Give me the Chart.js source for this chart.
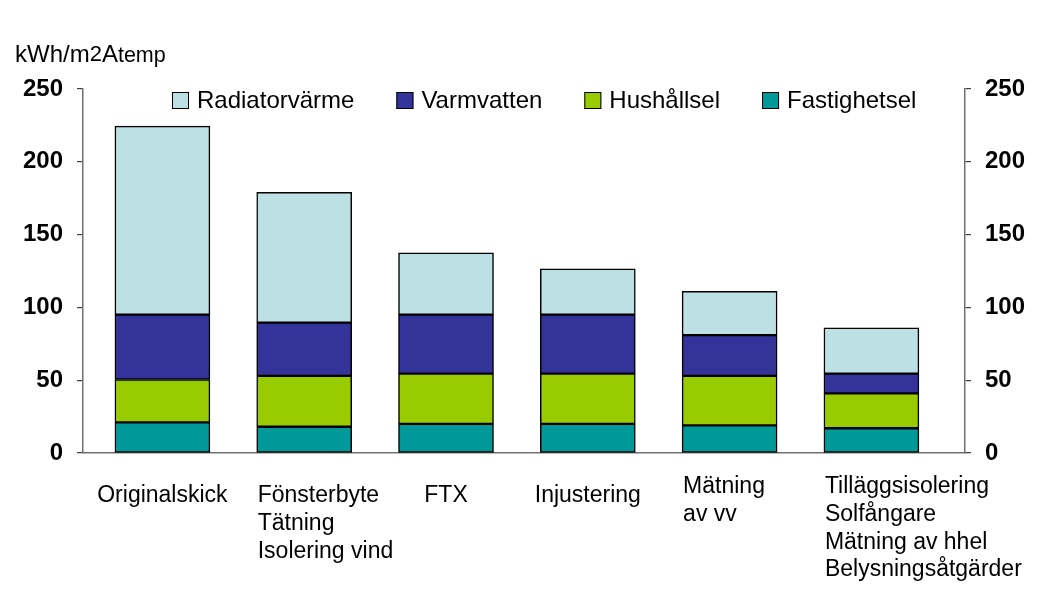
<!DOCTYPE html>
<html>
<head>
<meta charset="utf-8">
<script src="https://cdn.jsdelivr.net/npm/chart.js@4.4.1/dist/chart.umd.min.js"></script>
<style>
  html, body { margin: 0; padding: 0; background: #fff; }
  #wrap { width: 1044px; height: 609px; }
</style>
</head>
<body>
<div id="wrap"><canvas id="chart"></canvas></div>
<script>
'use strict';

const FONT = "'Liberation Sans', Arial, sans-serif";

// categories (multi-line labels) and the four stacked series, bottom to top
const categories = [
  ['Originalskick'],
  ['Fönsterbyte', 'Tätning', 'Isolering vind'],
  ['FTX'],
  ['Injustering'],
  ['Mätning', 'av vv'],
  ['Tilläggsisolering', 'Solfångare', 'Mätning av hhel', 'Belysningsåtgärder']
];
const fastighetsel = [21, 18, 20, 20, 19, 17];
const hushallsel = [29.5, 35, 34.5, 34.5, 34, 24];
const varmvatten = [44.5, 36.5, 40.5, 40.5, 28, 13.5];
const radiatorvarme = [129.5, 89.5, 42.5, 31.5, 30, 31.5];
const yTicks = [0, 50, 100, 150, 200, 250];

const BAR_W = 95;

function points(values) {
  return values.map((v, i) => ({ x: i + 1, y: v }));
}

function barSet(label, values, color) {
  return {
    label: label,
    data: points(values),
    backgroundColor: color,
    borderColor: '#000',
    borderWidth: 1.5,
    borderSkipped: false,
    barThickness: BAR_W
  };
}

// axis title, legend and category labels
const decor = {
  id: 'decor',
  afterDraw(chart) {
    const ctx = chart.ctx;
    const area = chart.chartArea;
    const xs = chart.scales.x;
    ctx.save();
    ctx.fillStyle = '#000';
    ctx.textAlign = 'left';

    // kWh/m2Atemp
    ctx.textBaseline = 'alphabetic';
    let tx = 15;
    [['kWh/m', 24, 0], ['2', 22, -1], ['A', 24, 0], ['temp', 21.5, 0]].forEach(([t, size, dy]) => {
      ctx.font = size + 'px ' + FONT;
      ctx.fillText(t, tx, 62 + dy);
      tx += ctx.measureText(t).width;
    });

    // legend, top series first
    ctx.font = '24px ' + FONT;
    ctx.textBaseline = 'middle';
    let lx = area.left + 89;
    const ly = area.top + 3;
    chart.data.datasets.slice().reverse().forEach(ds => {
      ctx.fillStyle = ds.backgroundColor;
      ctx.fillRect(lx, ly, 17, 17);
      ctx.strokeStyle = '#000';
      ctx.lineWidth = 1;
      ctx.strokeRect(lx + 0.5, ly + 0.5, 16, 16);
      ctx.fillStyle = '#000';
      ctx.fillText(ds.label, lx + 25, ly + 9);
      lx += 25 + ctx.measureText(ds.label).width + 42;
    });

    // category labels: one-liners centred, multi-line blocks start at the bar's left edge
    ctx.font = '23px ' + FONT;
    categories.forEach((lines, i) => {
      const cx = xs.getPixelForValue(i + 1);
      const w = Math.max(...lines.map(l => ctx.measureText(l).width));
      let x0 = lines.length > 1 ? cx - BAR_W / 2 + 1 : cx - w / 2;
      x0 = Math.min(x0, chart.width - w - 16);
      const y0 = xs.top + (i >= 4 ? 34 : 43);
      lines.forEach((l, j) => ctx.fillText(l, x0, y0 + j * 27.7));
    });
    ctx.restore();
  }
};

function yAxis(position, width, pad) {
  return {
    position: position,
    stacked: true,
    min: 0,
    max: 250,
    afterBuildTicks: s => { s.ticks = yTicks.map(v => ({ value: v })); },
    ticks: { color: '#000', font: { family: FONT, size: 24, weight: 'bold' }, padding: pad },
    grid: { drawOnChartArea: false, drawTicks: true, tickLength: 6, color: '#404040', lineWidth: 1.2 },
    border: { display: true, color: '#707070', width: 1.5 },
    afterFit: s => { s.width = width; }
  };
}

const canvasEl = document.getElementById('chart');

new Chart(canvasEl, {
  type: 'bar',
  data: {
    datasets: [
      barSet('Fastighetsel', fastighetsel, '#009999'),
      barSet('Hushållsel', hushallsel, '#99CC00'),
      barSet('Varmvatten', varmvatten, '#333399'),
      barSet('Radiatorvärme', radiatorvarme, '#BCE0E3')
    ]
  },
  options: {
    responsive: true,
    maintainAspectRatio: false,
    animation: false,
    layout: { padding: { top: 89, left: 0, right: 0, bottom: 0 } },
    plugins: {
      legend: { display: false },
      tooltip: { enabled: false }
    },
    scales: {
      x: {
        type: 'linear',
        stacked: true,
        offset: false,
        min: 0.44,
        max: 6.66,
        ticks: { display: false },
        grid: { display: true, drawOnChartArea: false, drawTicks: false, offset: false },
        border: { display: true, color: '#707070', width: 1.5 },
        afterFit: s => { s.height = 156; }
      },
      y: yAxis('left', 83, 14),
      y2: yAxis('right', 79, 14)
    }
  },
  plugins: [decor]
});
</script>
</body>
</html>
